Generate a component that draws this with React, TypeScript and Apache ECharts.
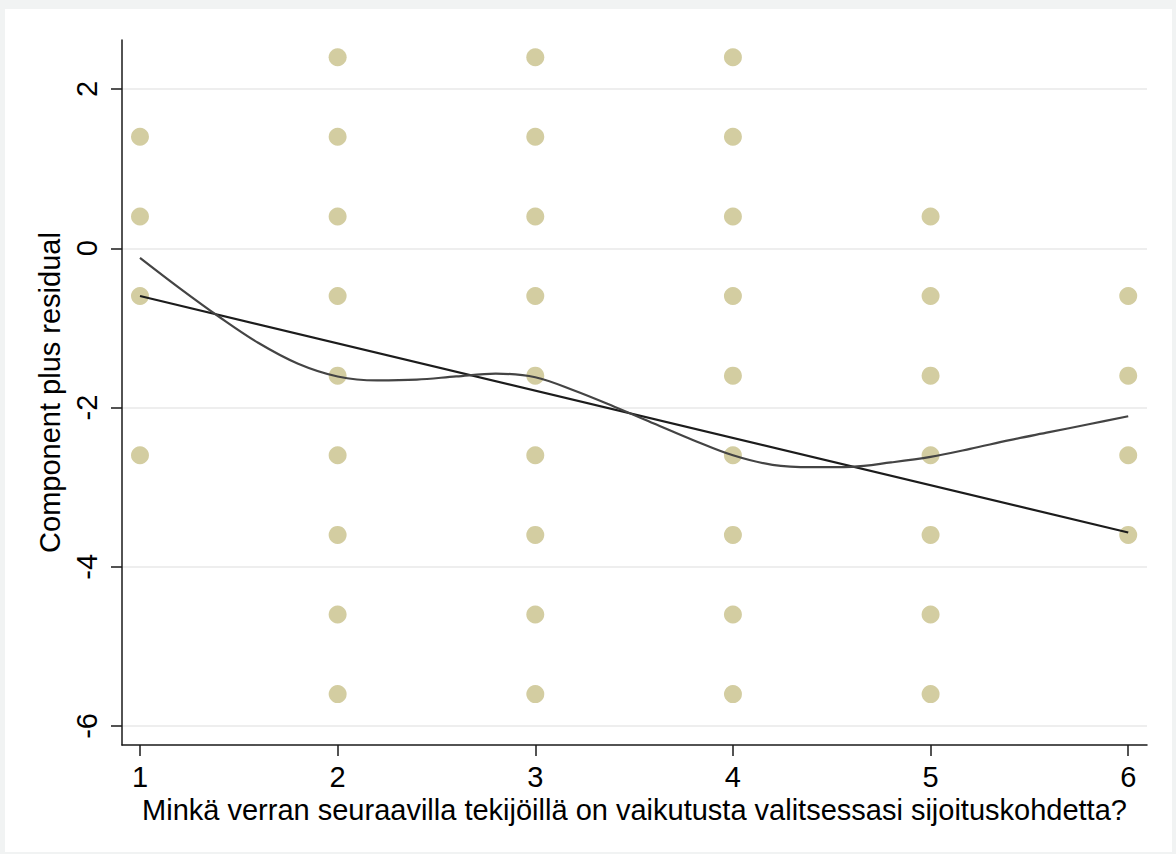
import React, { useEffect, useRef } from "react";
import * as echarts from "echarts";

const xCategories = [1, 2, 3, 4, 5, 6];
const residualsAt1 = [1.4, 0.4, -0.6, -2.6];
const residualsAt2 = [2.4, 1.4, 0.4, -0.6, -1.6, -2.6, -3.6, -4.6, -5.6];
const residualsAt3 = [2.4, 1.4, 0.4, -0.6, -1.6, -2.6, -3.6, -4.6, -5.6];
const residualsAt4 = [2.4, 1.4, 0.4, -0.6, -1.6, -2.6, -3.6, -4.6, -5.6];
const residualsAt5 = [0.4, -0.6, -1.6, -2.6, -3.6, -4.6, -5.6];
const residualsAt6 = [-0.6, -1.6, -2.6, -3.6];
const residualGroups = [residualsAt1, residualsAt2, residualsAt3, residualsAt4, residualsAt5, residualsAt6];

const linearFitX = [1, 6];
const linearFitY = [-0.6, -3.57];

const lowessX = [1.0, 1.2, 1.4, 1.6, 1.8, 2.0, 2.2, 2.4, 2.6, 2.8, 3.0, 3.2, 3.4, 3.6, 3.8, 4.0, 4.2, 4.4, 4.6, 4.8, 5.0, 5.2, 5.4, 5.6, 5.8, 6.0];
const lowessY = [-0.12, -0.5, -0.86, -1.19, -1.45, -1.61, -1.66, -1.65, -1.61, -1.575, -1.62, -1.79, -1.99, -2.2, -2.41, -2.6, -2.72, -2.75, -2.745, -2.69, -2.62, -2.52, -2.41, -2.31, -2.21, -2.11];

const yTicks = [-6, -4, -2, 0, 2];

const FONT = "'Liberation Sans', Arial, Helvetica, sans-serif";

export default function App() {
  const ref = useRef<HTMLDivElement>(null);
  useEffect(() => {
    if (!ref.current) return;
    const chart = echarts.init(ref.current, null, { renderer: "svg" });
    const scatterData: number[][] = [];
    residualGroups.forEach((g, i) => {
      g.forEach((v) => scatterData.push([xCategories[i], v]));
    });
    chart.setOption({
      animation: false,
      backgroundColor: "#f1f3f3",
      graphic: [
        {
          type: "rect",
          z: -10,
          silent: true,
          shape: { x: 5, y: 9, width: 1167, height: 843 },
          style: { fill: "#ffffff" },
        },
      ],
      grid: { left: 122, top: 40, right: 29, bottom: 109 },
      xAxis: {
        type: "value",
        min: 0.909,
        max: 6.095,
        name: "Minkä verran seuraavilla tekijöillä on vaikutusta valitsessasi sijoituskohdetta?",
        nameLocation: "middle",
        nameGap: 49,
        nameTextStyle: { color: "#000", fontSize: 29, fontFamily: FONT },
        axisLine: { show: true, onZero: false, lineStyle: { color: "#1a1a1a", width: 1.5 } },
        axisTick: { show: true, length: 11, customValues: xCategories, lineStyle: { color: "#1a1a1a", width: 1.5 } },
        axisLabel: { customValues: xCategories, color: "#000", fontSize: 29, fontFamily: FONT, margin: 17 },
        splitLine: { show: false },
      },
      yAxis: {
        type: "value",
        min: -6.239,
        max: 2.616,
        name: "Component plus residual",
        nameLocation: "middle",
        nameRotate: 90,
        nameGap: 52,
        nameTextStyle: { color: "#000", fontSize: 29, fontFamily: FONT },
        axisLine: { show: true, onZero: false, lineStyle: { color: "#1a1a1a", width: 1.5 } },
        axisTick: { show: true, length: 11, customValues: yTicks, lineStyle: { color: "#1a1a1a", width: 1.5 } },
        axisLabel: { customValues: yTicks, rotate: 90, color: "#000", fontSize: 29, fontFamily: FONT, margin: 21 },
        splitLine: { show: true, lineStyle: { color: "#e9e9e9", width: 1.5 } },
      },
      series: [
        {
          type: "scatter",
          data: scatterData,
          symbolSize: 18,
          itemStyle: { color: "#c8c089" },
          z: 2,
        },
        {
          type: "line",
          data: linearFitX.map((x, i) => [x, linearFitY[i]]),
          showSymbol: false,
          symbol: "none",
          lineStyle: { color: "#1c1c1c", width: 2.2 },
          z: 3,
        },
        {
          type: "line",
          data: lowessX.map((x, i) => [x, lowessY[i]]),
          showSymbol: false,
          symbol: "none",
          smooth: 0.35,
          lineStyle: { color: "#444444", width: 2.2 },
          z: 3,
        },
      ],
    });
    return () => chart.dispose();
  }, []);
  return (
    <div
      ref={ref}
      style={{ position: "absolute", left: 0, top: 0, width: 1176, height: 854 }}
    />
  );
}
